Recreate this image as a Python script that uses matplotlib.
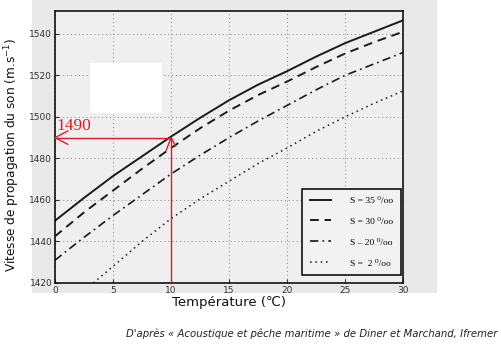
import matplotlib
matplotlib.use("Agg")
import matplotlib.pyplot as plt
from matplotlib.patches import Rectangle

temperature = [0, 2.5, 5, 7.5, 10, 12.5, 15, 17.5, 20, 22.5, 25, 27.5, 30]
s35 = [1450, 1461, 1471.5, 1481, 1490.5, 1499.5, 1508, 1515.5, 1522, 1529, 1535.5, 1541, 1546.5]
s30 = [1442.5, 1454, 1464.5, 1475, 1485, 1494.5, 1503, 1510.5, 1517, 1524, 1530.5, 1536, 1541]
s20 = [1431, 1442, 1452.5, 1462.5, 1472.5, 1481.5, 1490, 1498, 1505.5, 1513, 1520, 1525.5, 1531]
t_s2 = [3.3, 5, 7.5, 10, 12.5, 15, 17.5, 20, 22.5, 25, 27.5, 30]
s2 = [1420, 1428, 1440, 1451, 1460.5, 1469, 1477.5, 1485, 1493, 1500, 1506.5, 1512.5]
series_labels = ["S = 35 ⁰/oo", "S = 30 ⁰/oo", "S – 20 ⁰/oo", "S =  2 ⁰/oo"]
xticks = [0, 5, 10, 15, 20, 25, 30]
yticks = [1420, 1440, 1460, 1480, 1500, 1520, 1540]
marked_temp = 10
marked_speed = 1490

fig = plt.figure(figsize=(5.02, 3.57), dpi=100)
fig.patch.set_facecolor("white")
# scanned grey background
bg = Rectangle((32/502, 1-293/357), (437-32)/502, 293/357,
               transform=fig.transFigure, facecolor="#e9e9e9",
               edgecolor="none", zorder=-10)
fig.patches.append(bg)

ax = fig.add_axes([55/502, 1-283/357, 348/502, 272/357])
ax.set_zorder(1)
ax.set_facecolor("#efefef")
ax.set_xlim(0, 30)
ax.set_ylim(1420, 1551)
ax.set_xticks(xticks)
ax.set_yticks(yticks)
ax.tick_params(direction="in", length=3, labelsize=6.5, colors="#333333", pad=2)
for sp in ax.spines.values():
    sp.set_color("#111111")
    sp.set_linewidth(1.2)
ax.grid(True, linestyle=(0, (1, 3)), color="#808080", linewidth=0.7)
ax.set_axisbelow(True)

ax.plot(temperature, s35, color="#1a1a1a", lw=1.4, ls="-", label=series_labels[0])
ax.plot(temperature, s30, color="#1a1a1a", lw=1.4, ls=(0, (4.5, 3)), label=series_labels[1])
ax.plot(temperature, s20, color="#1a1a1a", lw=1.2, ls=(0, (5, 2.5, 1, 2.5)), label=series_labels[2])
ax.plot(t_s2, s2, color="#1a1a1a", lw=1.1, ls=(0, (1, 2.5)), label=series_labels[3])

leg = ax.legend(loc="lower right", bbox_to_anchor=(0.994, 0.029), frameon=True,
                fancybox=False, edgecolor="#111111", facecolor="#f2f2f2",
                framealpha=1, labelspacing=1.3, handlelength=2.3,
                handletextpad=2.0, borderpad=0.8, borderaxespad=0,
                prop={"family": ["Liberation Serif", "DejaVu Serif"], "size": 6.8})
leg.get_frame().set_linewidth(1.2)

# white patch
ax.add_patch(Rectangle((3.0, 1501.7), 6.2, 24.1, facecolor="white", edgecolor="none", zorder=5))

# red marking
red = "#dc1c28"
ax.plot([marked_temp, marked_temp], [1420, marked_speed], color=red, lw=1.0, zorder=6)
ax.plot([0, marked_temp], [marked_speed, marked_speed], color=red, lw=1.0, zorder=6)
ax.plot([0, 1.1], [marked_speed, marked_speed - 3.2], color=red, lw=1.0, zorder=6)
ax.plot([0, 1.1], [marked_speed, marked_speed + 3.2], color=red, lw=1.0, zorder=6)
ax.plot([marked_temp, marked_temp - 0.4], [marked_speed, marked_speed - 6], color=red, lw=1.0, zorder=6)
ax.plot([marked_temp, marked_temp + 0.4], [marked_speed, marked_speed - 4], color=red, lw=1.0, zorder=6)
ax.text(0.1, marked_speed + 1.6, str(marked_speed), color=red, fontsize=12.5,
        family=["Liberation Serif", "DejaVu Serif"], ha="left", va="bottom", zorder=7)

ax.set_xlabel("Température (℃)", fontsize=9.5, labelpad=1, color="#111111")
ax.set_ylabel("Vitesse de propagation du son (m.s$^{-1}$)", fontsize=8.7, color="#111111")
ax.yaxis.set_label_coords(-33/348, (283-155)/272)

fig.text(497/502, 1-334/357,
         "D'après « Acoustique et pêche maritime » de Diner et Marchand, Ifremer",
         fontsize=7.3, style="italic", ha="right", va="center", color="#222222")

fig.savefig("out.png", dpi=100)
